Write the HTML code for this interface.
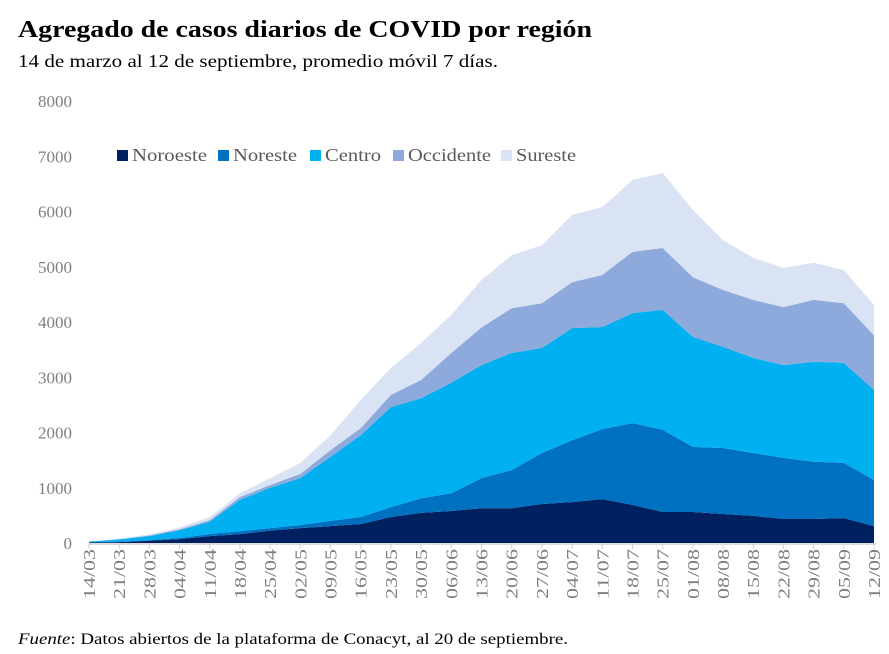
<!DOCTYPE html>
<html><head><meta charset="utf-8"><style>
body{margin:0;background:#fff;font-family:"Liberation Serif",serif;}
#wrap{position:relative;width:889px;height:654px;overflow:hidden}
</style></head><body><div id="wrap">
<svg id="c" width="889" height="654"></svg>
</div>
<script>
const dates=["14/03","21/03","28/03","04/04","11/04","18/04","25/04","02/05","09/05","16/05","23/05","30/05","06/06","13/06","20/06","27/06","04/07","11/07","18/07","25/07","01/08","08/08","15/08","22/08","29/08","05/09","12/09"];
const noroeste=[10,15,40,70,125,160,225,270,305,345,470,545,580,630,630,705,740,795,690,560,560,525,490,435,435,450,305];
const noreste=[5,10,15,20,35,55,45,55,95,125,180,265,320,545,690,925,1120,1265,1480,1490,1180,1195,1140,1105,1035,1000,835];
const centro=[10,40,70,140,225,565,730,850,1160,1480,1810,1810,2000,2045,2120,1900,2030,1850,1990,2170,1990,1830,1720,1680,1810,1810,1630];
const occidente=[0,5,10,20,30,50,50,75,120,130,220,330,540,680,810,810,830,940,1110,1120,1080,1030,1050,1050,1120,1080,990];
const sureste=[5,10,20,30,55,70,125,200,270,510,490,670,690,860,960,1050,1220,1230,1300,1360,1220,900,760,710,670,600,550];
const seriesNames=["Noroeste","Noreste","Centro","Occidente","Sureste"];
const colors=["#002060","#0070C0","#00B0F0","#8EA9DB","#DAE3F3"];
const yTicks=[0,1000,2000,3000,4000,5000,6000,7000,8000];
const series=[noroeste,noreste,centro,occidente,sureste];
const NS="http://www.w3.org/2000/svg";
const svg=document.getElementById('c');
const x0=89,x1=874,y0=543,y8=101;
const X=i=>x0+i*(x1-x0)/(dates.length-1);
const Y=v=>y0-v*(y0-y8)/8000;
function el(t,a,p){const e=document.createElementNS(NS,t);for(const k in a)e.setAttribute(k,a[k]);(p||svg).appendChild(e);return e;}
let t=el('text',{x:18,y:37,'font-size':24,'font-weight':'bold',fill:'#000',textLength:574,lengthAdjust:'spacingAndGlyphs'});t.textContent='Agregado de casos diarios de COVID por región';


t=el('text',{x:18,y:67,'font-size':18,fill:'#000',textLength:480,lengthAdjust:'spacingAndGlyphs'});t.textContent='14 de marzo al 12 de septiembre, promedio móvil 7 días.';


yTicks.forEach(v=>{const e=el('text',{x:72,y:Y(v)+6,'font-size':17,fill:'#7f7f7f','text-anchor':'end'});e.textContent=v;

});
let base=dates.map(()=>0);
series.forEach((s,k)=>{
  const top=base.map((b,i)=>b+s[i]);
  let d='M'+dates.map((_,i)=>X(i)+','+Y(top[i])).join('L');
  for(let i=dates.length-1;i>=0;i--)d+='L'+X(i)+','+Y(base[i]);
  const p=el('path',{d:d+'Z',fill:colors[k]});
  
  
  base=top;
});
const ax=el('line',{x1:x0,x2:x1+2,y1:y0+1,y2:y0+1,stroke:'#d0d0d0','stroke-width':1.5});


dates.forEach((d,i)=>{
  const tk=el('line',{x1:X(i),x2:X(i),y1:y0+1,y2:y0+6,stroke:'#d0d0d0'});
  
  
  const e=el('text',{x:0,y:0,'font-size':17,fill:'#7f7f7f','text-anchor':'end',transform:`translate(${X(i)+6},549) rotate(-90)`,textLength:50,lengthAdjust:'spacingAndGlyphs'});
  e.textContent=d;
  
  
});
const lx=[117,218,310,393,501];
const lw=[75,64,56,83,60];
seriesNames.forEach((n,k)=>{
  const g=el('g',{});
  
  
  el('rect',{x:lx[k],y:150,width:11,height:11,fill:colors[k]},g);
  const e=el('text',{x:lx[k]+15,y:161,'font-size':17.5,fill:'#595959',textLength:lw[k],lengthAdjust:'spacingAndGlyphs'},g);e.textContent=n;
});
const f=el('text',{x:18,y:644,'font-size':16,fill:'#000',textLength:550,lengthAdjust:'spacingAndGlyphs'});
f.innerHTML='<tspan font-style="italic">Fuente</tspan>: Datos abiertos de la plataforma de Conacyt, al 20 de septiembre.';


</script></body></html>
